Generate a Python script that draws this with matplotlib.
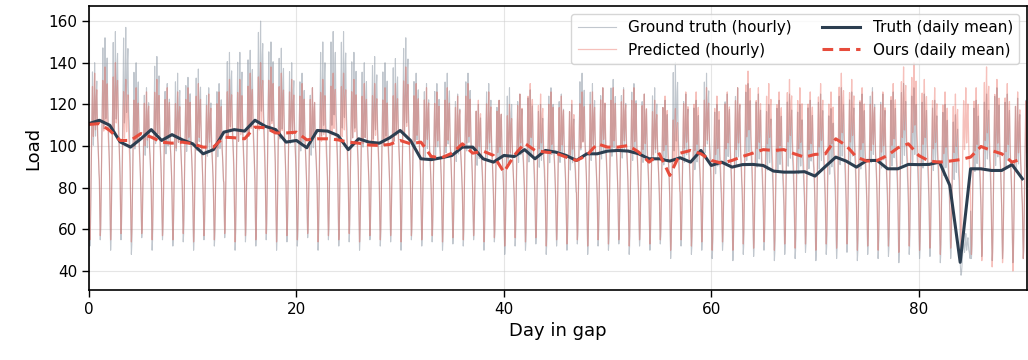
import numpy as np
import matplotlib
matplotlib.use("Agg")
import matplotlib.pyplot as plt

# ---- daily means (days 0..90) ----
days = list(range(91))
truth_daily = [110.8, 112.4, 110.0, 102.0, 99.5, 103.5, 107.9, 102.7, 105.5, 103.0,
               101.1, 96.3, 98.3, 106.7, 107.9, 107.2, 112.4, 109.5, 107.9, 101.9,
               102.7, 99.2, 107.5, 107.2, 105.1, 98.3, 103.5, 101.9, 101.4, 104.0,
               107.5, 102.7, 93.9, 93.5, 94.4, 95.5, 99.5, 99.5, 93.9, 92.3,
               95.5, 95.0, 98.3, 93.9, 97.9, 97.1, 95.5, 93.1, 96.3, 96.3,
               97.6, 97.9, 97.6, 96.3, 93.9, 93.9, 92.8, 94.4, 92.3, 97.9,
               90.7, 92.3, 89.9, 91.1, 91.2, 90.7, 88.0, 87.5, 87.5, 87.7,
               85.6, 90.2, 94.7, 92.8, 89.9, 93.1, 93.1, 89.1, 89.1, 91.2,
               91.1, 91.2, 92.3, 81.1, 44.2, 89.1, 89.1, 88.3, 88.3, 91.1,
               84.3]
ours_daily = [110.4, 110.8, 107.5, 102.7, 102.7, 106.0, 104.3, 101.9, 101.4, 101.9,
              101.1, 99.5, 99.5, 104.3, 104.0, 103.5, 109.1, 108.8, 106.3, 106.3,
              106.7, 103.0, 103.5, 103.5, 103.0, 101.9, 101.4, 100.5, 100.3, 100.8,
              102.7, 101.1, 101.9, 95.0, 94.4, 96.6, 101.1, 96.6, 97.6, 95.5,
              87.5, 95.5, 101.4, 97.9, 97.1, 96.6, 94.7, 93.1, 95.5, 101.1,
              99.5, 99.5, 100.3, 97.1, 92.3, 96.3, 85.9, 96.6, 97.9, 96.3,
              93.1, 91.8, 93.1, 95.0, 96.6, 98.3, 97.9, 98.3, 96.3, 94.7,
              96.0, 96.3, 103.5, 100.3, 94.7, 92.8, 93.1, 95.5, 99.2, 101.1,
              95.5, 92.8, 92.3, 92.8, 93.5, 94.7, 99.8, 97.9, 96.3, 92.3,
              93.9]

# ---- hourly: typical within-day profile (0 = night trough, 1 = day peak) ----
hour_profile_truth = [0.30, 0.12, 0.00, 0.05, 0.20, 0.40, 0.60, 0.80, 0.95, 0.70,
                      0.55, 0.65, 0.80, 1.00, 0.75, 0.60, 0.70, 0.85, 0.90, 0.72,
                      0.60, 0.55, 0.48, 0.40]
hour_profile_pred = [0.32, 0.14, 0.00, 0.06, 0.22, 0.42, 0.62, 0.80, 0.92, 0.74,
                     0.62, 0.70, 0.84, 1.00, 0.80, 0.66, 0.74, 0.86, 0.90, 0.74,
                     0.62, 0.56, 0.50, 0.42]

# daily peak / trough of hourly series
truth_peak = [140, 152, 155, 157, 140, 128, 143, 130, 135, 133,
              137, 128, 130, 145, 145, 146, 160, 150, 147, 140,
              135, 128, 150, 155, 155, 145, 140, 143, 140, 142,
              152, 135, 130, 130, 135, 125, 135, 120, 130, 122,
              128, 125, 127, 120, 128, 125, 120, 135, 130, 128,
              132, 128, 130, 125, 128, 122, 140, 125, 122, 135,
              120, 125, 128, 130, 125, 120, 122, 125, 120, 122,
              125, 118, 128, 126, 125, 128, 125, 126, 130, 128,
              125, 122, 120, 115, 58, 122, 125, 128, 125, 123,
              126]
truth_trough = [52, 55, 50, 55, 48, 56, 50, 55, 52, 54,
                50, 55, 52, 56, 50, 54, 52, 55, 50, 54,
                52, 56, 50, 55, 52, 54, 50, 55, 52, 54,
                50, 55, 52, 54, 50, 53, 52, 55, 50, 54,
                48, 52, 50, 53, 48, 52, 50, 53, 48, 52,
                50, 53, 48, 52, 50, 53, 46, 52, 48, 50,
                46, 50, 45, 48, 47, 50, 45, 48, 46, 49,
                45, 48, 46, 49, 45, 48, 46, 47, 44, 48,
                46, 47, 44, 46, 38, 46, 47, 45, 46, 44,
                46]
pred_peak = [135, 138, 140, 132, 128, 126, 132, 128, 126, 128,
             130, 125, 126, 132, 132, 135, 140, 138, 135, 132,
             130, 128, 132, 135, 135, 132, 130, 130, 128, 130,
             138, 130, 128, 126, 128, 124, 130, 122, 126, 122,
             120, 125, 130, 125, 126, 124, 122, 126, 126, 128,
             128, 127, 128, 125, 122, 124, 118, 126, 126, 128,
             124, 126, 128, 136, 128, 130, 126, 132, 128, 126,
             130, 126, 135, 132, 128, 126, 126, 130, 138, 140,
             132, 128, 126, 125, 128, 128, 138, 132, 130, 126,
             128]
pred_trough = [55, 57, 55, 58, 54, 58, 55, 57, 55, 58,
               54, 57, 55, 58, 54, 57, 55, 58, 54, 57,
               55, 58, 54, 57, 55, 58, 54, 57, 55, 57,
               54, 57, 55, 57, 54, 56, 55, 57, 54, 56,
               52, 56, 54, 56, 52, 55, 53, 55, 52, 55,
               53, 55, 52, 55, 53, 55, 50, 55, 52, 54,
               50, 54, 50, 53, 51, 54, 50, 53, 51, 53,
               50, 53, 51, 53, 50, 52, 50, 52, 49, 52,
               50, 51, 48, 51, 50, 48, 45, 42, 44, 40,
               46]

# ---- build hourly series from per-day values ----
truth_hourly = []
pred_hourly = []
for d in days:
    for h in range(24):
        truth_hourly.append(truth_trough[d] + (truth_peak[d] - truth_trough[d]) * hour_profile_truth[h])
        pred_hourly.append(pred_trough[d] + (pred_peak[d] - pred_trough[d]) * hour_profile_pred[h])
t_hours = np.arange(len(truth_hourly)) / 24.0

fig = plt.figure(figsize=(10.28, 3.6), dpi=100)
ax = fig.add_axes([0.0866, 0.195, 0.912, 0.788])

ax.plot(t_hours, truth_hourly, color="#8e99a6", lw=0.8, alpha=0.55, label="Ground truth (hourly)")
ax.plot(t_hours, pred_hourly, color="#e74c3c", lw=0.9, alpha=0.35, label="Predicted (hourly)")
ax.plot(days, truth_daily, color="#2c3e50", lw=2.2, label="Truth (daily mean)")
ax.plot(days, ours_daily, color="#e74c3c", lw=2.2, ls=(0, (3.5, 2.0)), label="Ours (daily mean)")

ax.set_xlim(0, 90.4)
ax.set_ylim(31, 167.2)
ax.set_xticks([0, 20, 40, 60, 80])
ax.set_yticks([40, 60, 80, 100, 120, 140, 160])
ax.grid(True, color="#cccccc", alpha=0.5, lw=0.8)
ax.tick_params(labelsize=11, length=5, width=1)
for s in ax.spines.values():
    s.set_linewidth(1.2)
ax.set_xlabel("Day in gap", fontsize=13)
ax.set_ylabel("Load", fontsize=13)

leg = ax.legend(loc="upper right", ncol=2, fontsize=11, frameon=True,
                handlelength=2.5, columnspacing=2.0, borderaxespad=0.5)
leg.get_frame().set_edgecolor("#cccccc")

fig.savefig("out.png", dpi=100)
